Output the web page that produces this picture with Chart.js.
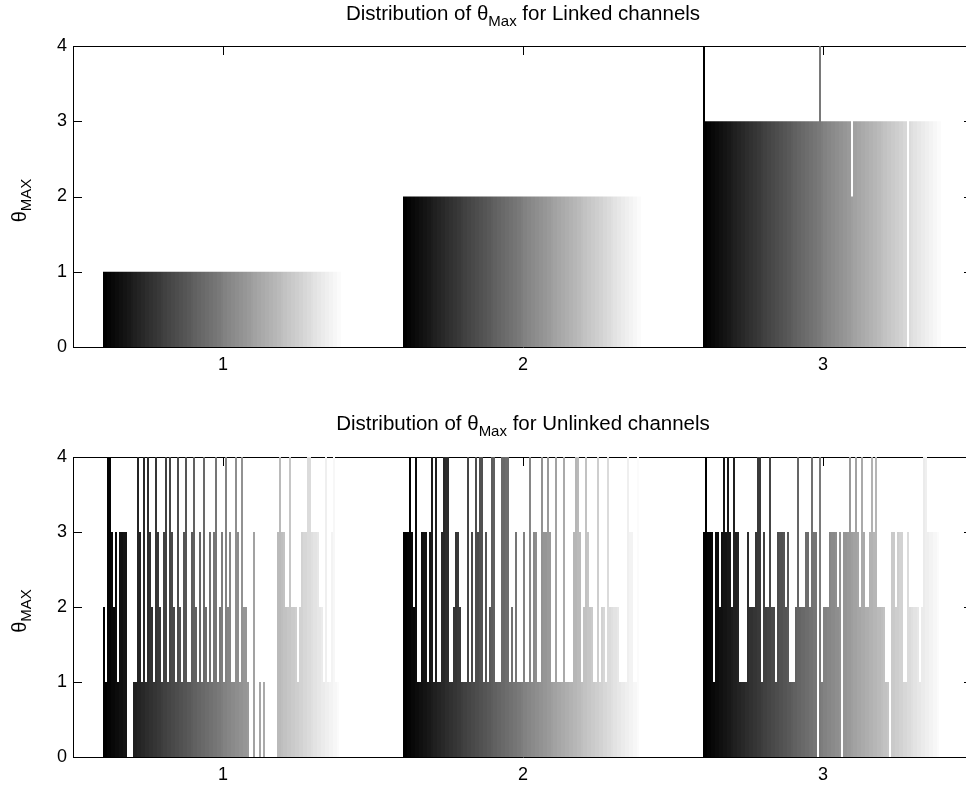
<!DOCTYPE html>
<html>
<head>
<meta charset="utf-8">
<script src="https://cdn.jsdelivr.net/npm/chart.js@4"></script>
<style>
    html, body { margin: 0; padding: 0; background: #fff; overflow: hidden; }
    #wrap { position: relative; width: 966px; height: 787px; overflow: hidden; }
    canvas { position: absolute; left: 0; }
    #topChart { top: 0; }
    #bottomChart { top: 400px; }
</style>
</head>
<body>
<div id="wrap">
    <canvas id="topChart" width="990" height="400"></canvas>
    <canvas id="bottomChart" width="990" height="387"></canvas>
</div>
<script>
const groups = ["1", "2", "3"];
const yTicks = [0, 1, 2, 3, 4];

// theta max per channel, linked channels (one array per group)
const linkedGroup1 = [
    1,1,1,1,1,1,1,1,1,1, 1,1,1,1,1,1,1,1,1,1, 1,1,1,1,1,1,1,1,1,1,
    1,1,1,1,1,1,1,1,1,1, 1,1,1,1,1,1,1,1,1,1, 1,1,1,1,1,1,1,1,1,1,
    1,1,1,1,1,1,1,1,1,1, 1,1,1,1,1,1,1,1,1,1, 1,1,1,1,1,1,1,1,1,1,
    1,1,1,1,1,1,1,1,1,1, 1,1,1,1,1,1,1,1,1,1, 1,1,1,1,1,1,1,1,1,1
];
const linkedGroup2 = [
    2,2,2,2,2,2,2,2,2,2, 2,2,2,2,2,2,2,2,2,2, 2,2,2,2,2,2,2,2,2,2,
    2,2,2,2,2,2,2,2,2,2, 2,2,2,2,2,2,2,2,2,2, 2,2,2,2,2,2,2,2,2,2,
    2,2,2,2,2,2,2,2,2,2, 2,2,2,2,2,2,2,2,2,2, 2,2,2,2,2,2,2,2,2,2,
    2,2,2,2,2,2,2,2,2,2, 2,2,2,2,2,2,2,2,2,2, 2,2,2,2,2,2,2,2,2,2
];
const linkedGroup3 = [
    4,3,3,3,3,3,3,3,3,3, 3,3,3,3,3,3,3,3,3,3, 3,3,3,3,3,3,3,3,3,3,
    3,3,3,3,3,3,3,3,3,3, 3,3,3,3,3,3,3,3,3,3, 3,3,3,3,3,3,3,3,4,3,
    3,3,3,3,3,3,3,3,3,3, 3,3,3,3,2,3,3,3,3,3, 3,3,3,3,3,3,3,3,3,3,
    3,3,3,3,3,3,3,3,3,3, 3,3,0,3,3,3,3,3,3,3, 3,3,3,3,3,3,3,3,3,3
];

// theta max per channel, unlinked channels
const unlinkedGroup1 = [
    2,1,4,4,3,2,3,1,3,3, 3,3,0,0,0,1,1,4,3,1, 4,1,4,3,2,1,4,3,2,1,
    3,4,1,4,3,2,1,4,2,1, 3,4,1,1,3,4,2,1,3,1, 4,2,1,3,1,3,4,1,2,3,
    1,4,2,3,1,1,4,3,1,4, 2,2,1,0,0,3,0,0,1,0, 1,0,0,0,0,0,0,3,4,3,
    3,2,2,4,2,2,2,1,2,3, 3,3,4,4,3,3,3,3,2,2, 1,4,1,1,3,4,1,1,0,0
];
const unlinkedGroup2 = [
    3,3,3,4,3,2,4,1,1,3, 3,3,1,3,4,1,4,1,1,3, 4,4,4,1,1,2,3,3,2,1,
    1,1,4,1,3,1,4,3,4,4, 1,3,1,2,4,4,1,1,1,4, 4,4,4,1,2,1,3,1,1,1,
    3,1,1,4,1,3,3,1,1,4, 3,3,4,3,1,1,4,1,1,1, 4,1,1,1,1,3,4,4,3,1,
    2,4,3,2,2,1,1,4,1,2, 2,1,4,2,2,2,2,2,1,1, 1,1,4,3,3,1,1,4,0,0
];
const unlinkedGroup3 = [
    3,4,3,3,3,1,3,3,2,3, 4,3,4,3,2,4,3,3,1,1, 1,1,3,2,2,2,3,4,4,1,
    3,2,2,4,2,2,1,3,3,3, 3,2,3,1,1,1,2,4,2,2, 2,3,3,2,4,3,3,0,4,1,
    2,2,2,3,3,3,3,2,3,0, 3,3,3,4,3,3,4,3,2,4, 3,2,2,3,4,3,4,2,2,2,
    2,1,1,0,3,3,2,3,3,3, 1,1,3,2,2,2,2,2,1,2, 4,4,3,3,3,3,3,3,0,0
];

const fontFamily = "'Liberation Sans', Arial, Helvetica, sans-serif";
Chart.defaults.font.family = fontFamily;
Chart.defaults.color = "#000";

function grayFor(k, n) {
    const v = Math.round(Math.floor(k * 64 / n) / 63 * 255);
    return "rgb(" + v + "," + v + "," + v + ")";
}

function makeDatasets(g1, g2, g3) {
    return g1.map((v, k) => ({
        data: [g1[k], g2[k], g3[k]],
        backgroundColor: grayFor(k, g1.length),
        borderWidth: 0,
        barPercentage: 1,
        categoryPercentage: 0.8
    }));
}

// box, inward ticks, title and y label drawn the matlab way
const matlabAxes = {
    id: "matlabAxes",
    beforeDatasetsDraw(chart) {
        const { ctx, chartArea: a, scales } = chart;
        ctx.save();
        ctx.strokeStyle = "#000";
        ctx.lineWidth = 1;
        ctx.beginPath();
        ctx.rect(a.left + 0.5, a.top + 0.5, a.right - a.left, a.bottom - a.top);
        yTicks.forEach(t => {
            const y = Math.round(scales.y.getPixelForValue(t)) + 0.5;
            ctx.moveTo(a.left, y);
            ctx.lineTo(a.left + 9, y);
            ctx.moveTo(a.right, y);
            ctx.lineTo(a.right - 9, y);
        });
        groups.forEach((g, i) => {
            const x = Math.round(scales.x.getPixelForValue(i)) + 0.5;
            ctx.moveTo(x, a.bottom);
            ctx.lineTo(x, a.bottom - 9);
            ctx.moveTo(x, a.top);
            ctx.lineTo(x, a.top + 9);
        });
        ctx.stroke();
        ctx.restore();
    },
    afterDraw(chart, args, opts) {
        const { ctx, chartArea: a } = chart;
        const big = "20.5px " + fontFamily;
        const small = "15px " + fontFamily;
        ctx.save();
        ctx.fillStyle = "#000";
        ctx.textBaseline = "alphabetic";
        ctx.textAlign = "left";

        // title
        const parts = opts.title;
        ctx.font = big;
        const w1 = ctx.measureText(parts[0]).width;
        const w3 = ctx.measureText(parts[2]).width;
        ctx.font = small;
        const w2 = ctx.measureText(parts[1]).width;
        let x = (a.left + a.right) / 2 - (w1 + w2 + w3) / 2;
        const y = opts.titleY;
        ctx.font = big;
        ctx.fillText(parts[0], x, y);
        ctx.font = small;
        ctx.fillText(parts[1], x + w1, y + 6);
        ctx.font = big;
        ctx.fillText(parts[2], x + w1 + w2, y);

        // y label
        ctx.translate(26, (a.top + a.bottom) / 2 + 4);
        ctx.rotate(-Math.PI / 2);
        ctx.font = "20px " + fontFamily;
        const wt = ctx.measureText("θ").width;
        ctx.font = "15px " + fontFamily;
        const wm = ctx.measureText("MAX").width;
        const sx = -(wt + wm) / 2;
        ctx.font = "20px " + fontFamily;
        ctx.fillText("θ", sx, 0);
        ctx.font = "15px " + fontFamily;
        ctx.fillText("MAX", sx + wt, 5);
        ctx.restore();
    }
};

function makeChart(id, datasets, padTop, xAxisHeight, title, titleY) {
    return new Chart(document.getElementById(id), {
        type: "bar",
        data: { labels: groups, datasets: datasets },
        options: {
            responsive: false,
            animation: false,
            events: [],
            layout: { padding: { top: padTop, right: 17, left: 0, bottom: 0 } },
            plugins: {
                legend: { display: false },
                tooltip: { enabled: false },
                matlabAxes: { title: title, titleY: titleY }
            },
            scales: {
                x: {
                    offset: true,
                    grid: { display: false, drawTicks: false },
                    border: { display: false },
                    ticks: { font: { size: 18 }, padding: 7, maxRotation: 0 },
                    afterFit(s) { s.height = xAxisHeight; }
                },
                y: {
                    min: 0,
                    max: 4,
                    grid: { display: false, drawTicks: false },
                    border: { display: false },
                    ticks: { stepSize: 1, font: { size: 18 }, padding: 6 },
                    afterFit(s) { s.width = 73; }
                }
            }
        },
        plugins: [matlabAxes]
    });
}

makeChart("topChart", makeDatasets(linkedGroup1, linkedGroup2, linkedGroup3), 46, 53,
    ["Distribution of θ", "Max", " for Linked channels"], 20);
makeChart("bottomChart", makeDatasets(unlinkedGroup1, unlinkedGroup2, unlinkedGroup3), 57, 30,
    ["Distribution of θ", "Max", " for Unlinked channels"], 30);
</script>
</body>
</html>
